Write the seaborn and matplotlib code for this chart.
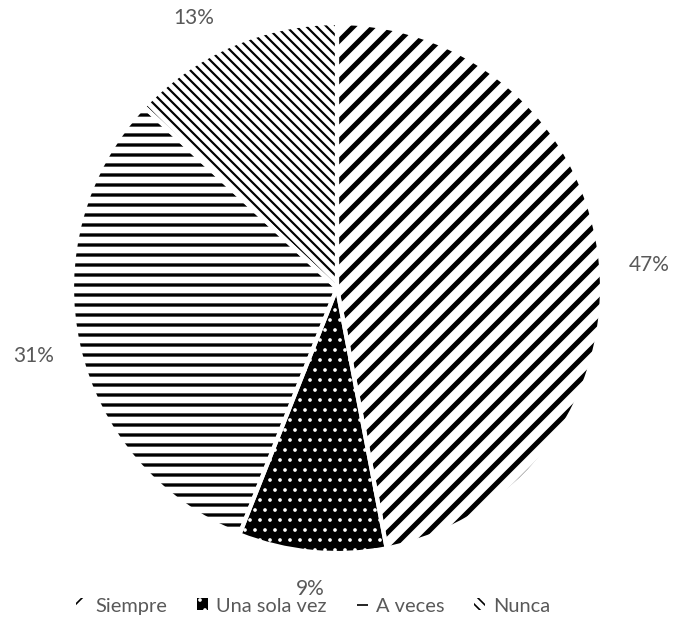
import matplotlib
matplotlib.use("Agg")
import matplotlib.pyplot as plt
import seaborn as sns
import numpy as np
from matplotlib.patches import Patch

categorias = ["Siempre", "Una sola vez", "A veces", "Nunca"]
porcentajes = [47, 9, 31, 13]

hatches = ["//", "..", "--", "\\\\\\\\"]
caras = ["white", "black", "white", "white"]
tramas = ["black", "white", "black", "black"]
grosores = [3.0, 1.0, 2.0, 1.3]

# colocación de las etiquetas (distancia al centro y giro en grados)
dist_etiqueta = [1.18, 1.14, 1.175, 1.155]
giro_etiqueta = [-1.2, 0.4, 0.0, 4.6]

sns.set_theme(style="white")
plt.rcParams["font.family"] = ["Lato", "DejaVu Sans"]
gris = "#595959"

DPI = 120
fig = plt.figure(figsize=(674 / DPI, 619 / DPI), dpi=DPI)
ax = fig.add_axes([0, 0, 1, 1])

# primera pasada: rellenos con trama
wedges, textos, pcts = ax.pie(
    porcentajes, startangle=90, counterclock=False, radius=1.0,
    autopct="%1.0f%%", pctdistance=1.17,
    textprops={"color": gris, "fontsize": 12.5},
    wedgeprops={"linewidth": 0},
)
for w, h, fc, hc, lw in zip(wedges, hatches, caras, tramas, grosores):
    w.set_facecolor(fc)
    w.set_edgecolor(hc)
    w.set_hatch(h)
    if hasattr(w, "set_hatch_linewidth"):
        w.set_hatch_linewidth(lw)

for w, t, d, g in zip(wedges, pcts, dist_etiqueta, giro_etiqueta):
    ang = np.deg2rad((w.theta1 + w.theta2) / 2 + g)
    t.set_position((d * np.cos(ang), d * np.sin(ang)))

# segunda pasada: bordes blancos entre porciones
ax.pie(porcentajes, startangle=90, counterclock=False, radius=1.0,
       wedgeprops={"fill": False, "edgecolor": "white", "linewidth": 2.5})

r = 265
ax.set_xlim(-337 / r, 337 / r)
ax.set_ylim(-(619 - 288) / r, 288 / r)
ax.set_aspect("auto")
ax.axis("off")

handles = []
for h, fc, hc in zip(hatches, caras, tramas):
    p = Patch(facecolor=fc, edgecolor=hc, hatch=h, linewidth=0)
    handles.append(p)
leg = fig.legend(handles, categorias, loc="center", bbox_to_anchor=(0.465, 0.021),
                 ncol=4, frameon=False, fontsize=12, handlelength=0.55, handleheight=0.55,
                 handletextpad=0.4, columnspacing=1.5)
for t in leg.get_texts():
    t.set_color(gris)

fig.savefig("out.png", dpi=DPI)
